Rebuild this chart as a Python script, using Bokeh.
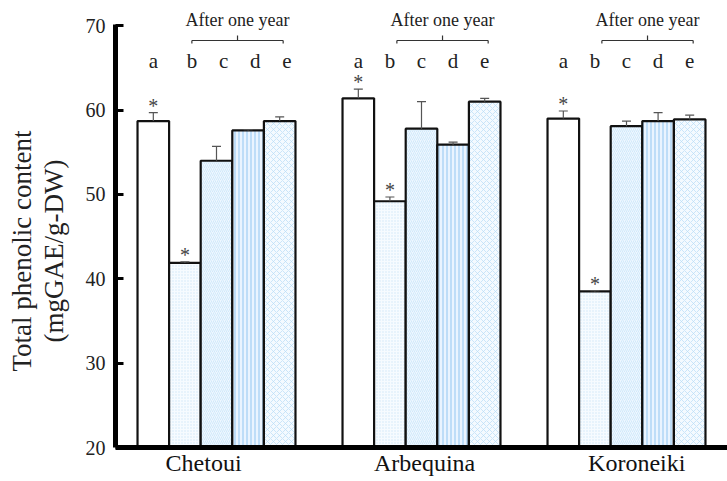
from bokeh.plotting import figure
from bokeh.models import Range1d, FixedTicker, ColumnDataSource, Title
from bokeh.core.properties import value
from bokeh.embed import file_html
from bokeh.resources import INLINE

# ---------------- data ----------------
cultivars = ["Chetoui", "Arbequina", "Koroneiki"]
treatments = ["a", "b", "c", "d", "e"]
chetoui = [58.7, 41.9, 54.0, 57.6, 58.7]
chetoui_err = [1.0, 0.1, 1.7, 0.1, 0.5]
arbequina = [61.4, 49.2, 57.8, 55.9, 61.0]
arbequina_err = [1.1, 0.5, 3.2, 0.3, 0.4]
koroneiki = [59.0, 38.5, 58.1, 58.7, 58.9]
koroneiki_err = [0.9, 0.1, 0.6, 1.0, 0.5]
significant = ["a", "b"]          # treatments marked with *
y_ticks = [20, 30, 40, 50, 60, 70]
group_note = "After one year"
y_title = ["Total phenolic content", "(mgGAE/g-DW)"]

values = [chetoui, arbequina, koroneiki]
errors = [chetoui_err, arbequina_err, koroneiki_err]

# ---------------- styles ----------------
FONT = "Liberation Serif"
FONT_X = "'Liberation Serif', serif"
FONT_Y = "Times New Roman"
W = 0.1541                      # bar width (group spacing = 1)
fills = {"a": "#ffffff", "b": "#f6fbff", "c": "#eef7ff", "d": "#eaf4ff", "e": "#f4faff"}
hatches = {"a": None, "b": "dot", "c": "right_diagonal_line", "d": "vertical_line", "e": "diagonal_cross"}
hcolors = {"a": "#ffffff", "b": "#cfe6f8", "c": "#c4e2f8", "d": "#9fcdf3", "e": "#b8dcf6"}
hscales = {"a": 4, "b": 3, "c": 4, "d": 4, "e": 6}
hweights = {"a": 1, "b": 1, "c": 0.7, "d": 1.2, "e": 0.7}

p = figure(width=727, height=481, output_backend="svg", toolbar_location=None,
           x_range=Range1d(-0.49268, 2.49268), y_range=Range1d(20, 73.0),
           min_border_left=115, min_border_right=0, min_border_top=0,
           min_border_bottom=34)
p.outline_line_color = None
p.xgrid.visible = False
p.ygrid.visible = False
p.background_fill_color = "white"

# bars
for j, t in enumerate(treatments):
    xs = [g + (j - 2) * W for g in range(len(cultivars))]
    tops = [values[g][j] for g in range(len(cultivars))]
    src = ColumnDataSource(dict(x=xs, top=tops))
    kw = {}
    if hatches[t]:
        kw = dict(hatch_pattern=hatches[t], hatch_color=hcolors[t],
                  hatch_scale=hscales[t], hatch_weight=hweights[t])
    p.vbar(x="x", top="top", bottom=20, width=W, source=src,
           fill_color=fills[t], line_color="#111111", line_width=2.2, **kw)

# error bars (upper only)
ex, elo, ehi = [], [], []
for g in range(len(cultivars)):
    for j in range(len(treatments)):
        ex.append(g + (j - 2) * W)
        elo.append(values[g][j])
        ehi.append(values[g][j] + errors[g][j])
esrc = ColumnDataSource(dict(x=ex, lo=elo, hi=ehi))
p.segment(x0="x", y0="lo", x1="x", y1="hi", source=esrc, line_color="#555555", line_width=1.2)
p.scatter(x="x", y="hi", marker="dash", size=9, source=esrc, line_color="#555555", line_width=1.2)

# asterisks
ax, ay = [], []
for g in range(len(cultivars)):
    for j, t in enumerate(treatments):
        if t in significant:
            ax.append(g + (j - 2) * W)
            ay.append(values[g][j] + errors[g][j])
p.text(x=ax, y=ay, text=["*"] * len(ax), y_offset=4, text_font=value(FONT),
       text_font_size="20px", text_color="#444444", text_align="center", text_baseline="bottom")

# treatment letters
lx, lt = [], []
for g in range(len(cultivars)):
    for j, t in enumerate(treatments):
        lx.append(g + (j - 2) * W + (0.035 if (g == 0 and j > 0) else 0))
        lt.append(t)
p.text(x=lx, y=[65.77] * len(lx), text=lt, text_font=value(FONT), text_font_size="21px",
       text_color="#222222", text_align="center", text_baseline="middle")

# "After one year" with bracket
for g in range(len(cultivars)):
    xb = g - W
    xe = g + 2 * W
    left = xb + 0.034
    right = xe + 0.017
    mid = (left + right) / 2
    p.segment(x0=[left, left, right, mid], y0=[68.26] * 4,
              x1=[right, left, right, mid], y1=[68.26, 67.9, 67.9, 68.85],
              line_color="#333333", line_width=1.2)
    p.text(x=[mid], y=[70.63], text=[group_note], text_font=value(FONT), text_font_size="18px",
           text_color="#222222", text_align="center", text_baseline="middle")

# axes
p.yaxis.ticker = FixedTicker(ticks=y_ticks)
p.yaxis.bounds = (20, 70.1)
p.yaxis.axis_line_width = 5
p.yaxis.axis_line_color = "black"
p.yaxis.major_tick_in = 8
p.yaxis.major_tick_out = 0
p.yaxis.major_tick_line_width = 3
p.yaxis.minor_tick_line_color = None
p.yaxis.major_label_standoff = 10
p.yaxis.major_label_text_font = FONT_Y
p.yaxis.major_label_text_font_size = "20px"
p.yaxis.major_label_text_color = "#222222"
p.yaxis.axis_label = " "
p.yaxis.axis_label_standoff = 0
p.yaxis.axis_label_text_font_size = "9px"

label_pos = [-0.063, 1.015, 2.05]
p.xaxis.ticker = FixedTicker(ticks=label_pos)
p.xaxis.major_label_overrides = {lp: c for lp, c in zip(label_pos, cultivars)}
p.xaxis.axis_line_width = 5
p.xaxis.axis_line_color = "black"
p.xaxis.major_tick_in = 0
p.xaxis.major_tick_out = 0
p.xaxis.minor_tick_line_color = None
p.xaxis.major_label_standoff = 2
p.xaxis.major_label_text_font = FONT_X
p.xaxis.major_label_text_font_size = "24px"
p.xaxis.major_label_text_color = "#111111"

# y title: two rotated lines on the left side (inner line added first)
p.add_layout(Title(text=y_title[1], align="left", offset=105, standoff=0,
                   vertical_align="middle", text_font=FONT, text_font_size="27px",
                   text_font_style="normal", text_color="#222222"), "left")
p.add_layout(Title(text=y_title[0], align="left", offset=76, standoff=0,
                   vertical_align="middle", text_font=FONT, text_font_size="27px",
                   text_font_style="normal", text_color="#222222"), "left")

open("out.html", "w").write(file_html(p, INLINE))
